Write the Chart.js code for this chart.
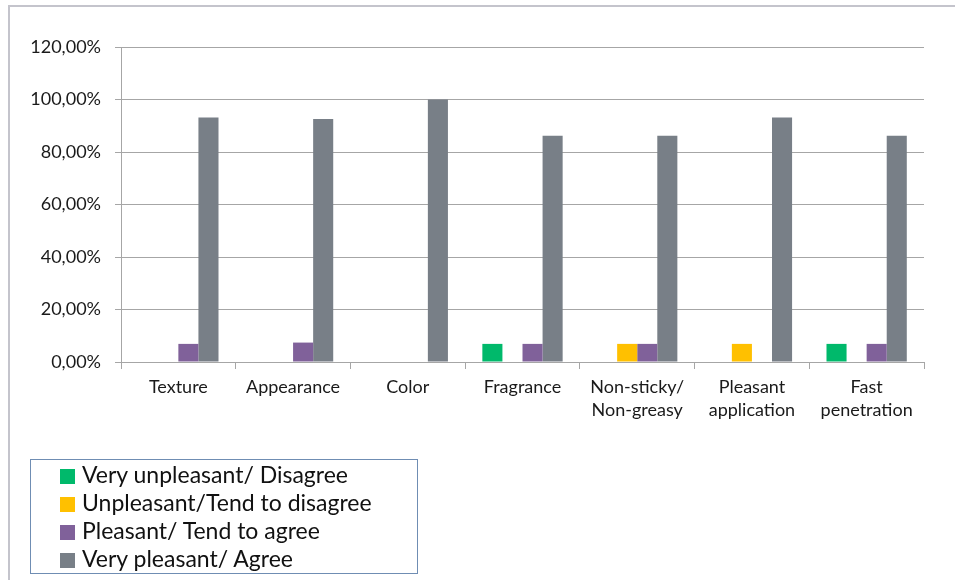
<!DOCTYPE html>
<html>
<head>
<meta charset="utf-8">
<script src="https://cdn.jsdelivr.net/npm/chart.js@4.4.1/dist/chart.umd.min.js"></script>
<style>
  html, body { margin: 0; padding: 0; background: #fff; }
  #wrap { position: relative; width: 955px; height: 580px; }
  #legend {
    position: absolute; left: 30px; top: 459px; width: 388px; height: 115px;
    border: 1.5px solid #6f8db3; font-family: Lato, "Open Sans", sans-serif;
    font-size: 23px; color: #111; padding-top: 0px; box-sizing: border-box;
  }
  #legend div { height: 28px; line-height: 28px; padding-left: 29px; white-space: nowrap; }
  #legend span { display: inline-block; width: 15px; height: 15px; margin-right: 7px; vertical-align: -1px; }
</style>
</head>
<body>
<div id="wrap">
  <canvas id="chart" width="955" height="580"></canvas>
  <div id="legend"></div>
</div>
<script>
// === Data ====================================================================
const categories = [
  "Texture", "Appearance", "Color", "Fragrance",
  ["Non-sticky/", "Non-greasy"], ["Pleasant", "application"], ["Fast", "penetration"]
];
const seriesNames = [
  "Very unpleasant/ Disagree",
  "Unpleasant/Tend to disagree",
  "Pleasant/ Tend to agree",
  "Very pleasant/ Agree"
];
const veryUnpleasant = [0, 0, 0, 6.9, 0, 0, 6.9];
const unpleasant     = [0, 0, 0, 0, 6.9, 6.9, 0];
const pleasant       = [6.9, 7.4, 0, 6.9, 6.9, 0, 6.9];
const veryPleasant   = [93.1, 92.6, 100, 86.2, 86.2, 93.1, 86.2];
const yTicks = [0, 20, 40, 60, 80, 100, 120];

const colors = ["#00b96b", "#ffc000", "#80619a", "#787f87"];
const gridColor = "#a6a6a6";
const font = "Lato, 'Open Sans', sans-serif";

// === Outer frame (cropped chart border) ======================================
const framePlugin = {
  id: "frame",
  beforeDraw(chart) {
    const c = chart.ctx;
    c.save();
    c.strokeStyle = "#c4c4cc";
    c.lineWidth = 2;
    c.beginPath();
    c.moveTo(9, 580);
    c.lineTo(9, 6);
    c.lineTo(955, 6);
    c.stroke();
    c.restore();
  }
};

// === Chart ===================================================================
const chart = new Chart(document.getElementById("chart"), {
  type: "bar",
  data: {
    labels: categories,
    datasets: [veryUnpleasant, unpleasant, pleasant, veryPleasant].map((d, i) => ({
      label: seriesNames[i],
      data: d,
      backgroundColor: colors[i],
      borderWidth: 0,
      categoryPercentage: 0.7,
      barPercentage: 1.0
    }))
  },
  options: {
    responsive: false,
    animation: false,
    layout: { padding: { left: 0, right: 31, top: 47, bottom: 148 } },
    plugins: {
      legend: { display: false },
      tooltip: { enabled: false }
    },
    scales: {
      x: {
        grid: { drawOnChartArea: false, drawTicks: true, tickLength: 7, color: gridColor, offset: true },
        border: { color: gridColor, width: 1 },
        ticks: { color: "#1a1a1a", font: { family: font, size: 18, lineHeight: 1.3 }, padding: 6, maxRotation: 0, autoSkip: false },
        afterFit(scale) { scale.height = 70; }
      },
      y: {
        min: 0,
        max: 120,
        afterBuildTicks(scale) { scale.ticks = yTicks.map(v => ({ value: v })); },
        grid: { color: gridColor, lineWidth: 1, tickLength: 6 },
        border: { color: gridColor, width: 1 },
        ticks: {
          color: "#1a1a1a",
          font: { family: font, size: 18 },
          padding: 14,
          callback: v => v.toFixed(2).replace(".", ",") + "%"
        },
        afterFit(scale) { scale.width = 121; }
      }
    }
  },
  plugins: [framePlugin]
});

// === HTML legend =============================================================
const legendEl = document.getElementById("legend");
seriesNames.forEach((name, i) => {
  const row = document.createElement("div");
  row.innerHTML = `<span style="background:${colors[i]}"></span>${name}`;
  legendEl.appendChild(row);
});
</script>
</body>
</html>
